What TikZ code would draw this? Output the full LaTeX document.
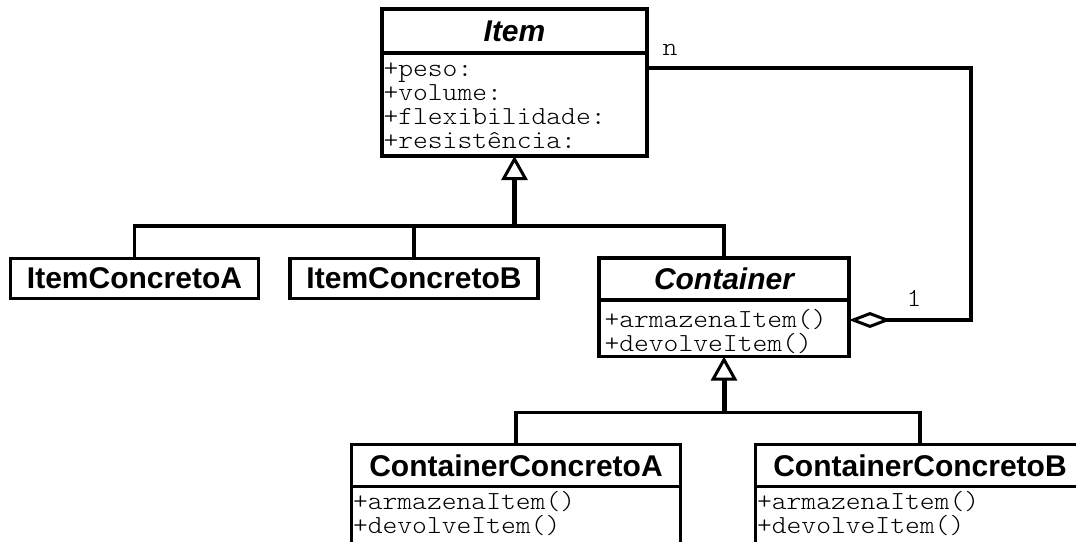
\documentclass[tikz,border=0pt]{standalone}
\usepackage{fontspec}
\usepackage{tikz}
\usetikzlibrary{arrows.meta, positioning, calc}
\newfontfamily\umlsans{Liberation Sans}
\newfontfamily\umlmono[FakeStretch=1.085]{lmmonolt10-regular.otf}
\newcommand{\titlefont}{\umlsans\bfseries\fontsize{30}{34}\selectfont}
\newcommand{\attrfont}{\umlmono\fontsize{26}{24}\selectfont}

\begin{document}
\begin{tikzpicture}[
        x=1pt, y=-1pt,
        classname/.style={
            rectangle,
            draw=black,
            line width=3.5pt,
            fill=white,
            font=\titlefont,
            minimum height=43pt,
            inner sep=0pt,
            outer sep=0pt
        },
        classbody/.style={
            rectangle,
            draw=black,
            line width=3.5pt,
            fill=white,
            font=\attrfont,
            align=left,
            inner ysep=0pt,
            inner xsep=1.5pt,
            outer sep=0pt
        },
        link/.style={draw=black, line width=3.5pt},
        stem/.style={draw=black, line width=5pt},
        gen/.style={-{Triangle[open, length=24pt, width=26pt, line width=3pt]}},
        agg/.style={{Diamond[open, length=42pt, width=16pt, line width=3pt]}-},
        mult/.style={font=\attrfont, inner sep=0pt}
    ]
    \useasboundingbox (0,0) rectangle (1076,541);
    \clip (0,0) rectangle (1076,541);

    % --- CLASSES ---
    \node (item) [classname, minimum width=265pt, minimum height=44pt] at (514.5,31) {\itshape Item};
    \node (itemattr) [classbody, below=0pt of item, text width=262pt, text height=23pt, text depth=80pt]
        {+peso:\\+volume:\\+flexibilidade:\\+resistência:};

    \node (itemA) [classname, minimum width=248pt, minimum height=40pt] at (134.5,278.5) {ItemConcretoA};
    \node (itemB) [classname, minimum width=248pt, minimum height=40pt, right=31.5pt of itemA] {ItemConcretoB};

    \node (cont) [classname, minimum width=250pt, minimum height=42pt] at (724,279) {\itshape Container};
    \node (contops) [classbody, below=0pt of cont, text width=239pt, inner xsep=5.5pt, text height=27pt, text depth=29.5pt]
        {+armazenaItem()\\+devolveItem()};

    \node (contA) [classname, minimum width=329pt, minimum height=42pt] at (516,465.5) {ContainerConcretoA};
    \node (contAops) [classbody, below=0pt of contA, text width=326pt, text height=23pt, text depth=40pt]
        {+armazenaItem()\\+devolveItem()};

    \node (contB) [classname, minimum width=329pt, minimum height=42pt, right=75pt of contA] {ContainerConcretoB};
    \node (contBops) [classbody, below=0pt of contB, text width=326pt, text height=23pt, text depth=40pt]
        {+armazenaItem()\\+devolveItem()};

    % --- GENERALISATION ---
    \coordinate (itembus) at ($(itemattr.south)+(0,70)$);
    \draw [link] (itemA.north) |- (itembus) -| (cont.north);
    \draw [link] (itemB.north) -- (itemB.north |- itembus);
    \draw [stem, gen] (itembus) -- (itemattr.south);

    \coordinate (contbus) at ($(contops.south)+(0,56)$);
    \draw [link] (contA.north) |- (contbus) -| (contB.north);
    \draw [stem, gen] (contbus) -- (contops.south);

    % --- AGGREGATION ---
    \coordinate (itemassoc) at ($(itemattr.north east)+(0,15)$);
    \coordinate (contagg) at ($(contops.north east)+(0,20)$);
    \draw [link, agg] (contagg) -| ($(itemassoc)+(324,0)$) -- (itemassoc);

    \node (nlabel) [mult] at ($(itemassoc)+(23,-18)$) {n};
    \node (onelabel) [mult] at ($(contagg)+(65,-22)$) {1};

\end{tikzpicture}
\end{document}
